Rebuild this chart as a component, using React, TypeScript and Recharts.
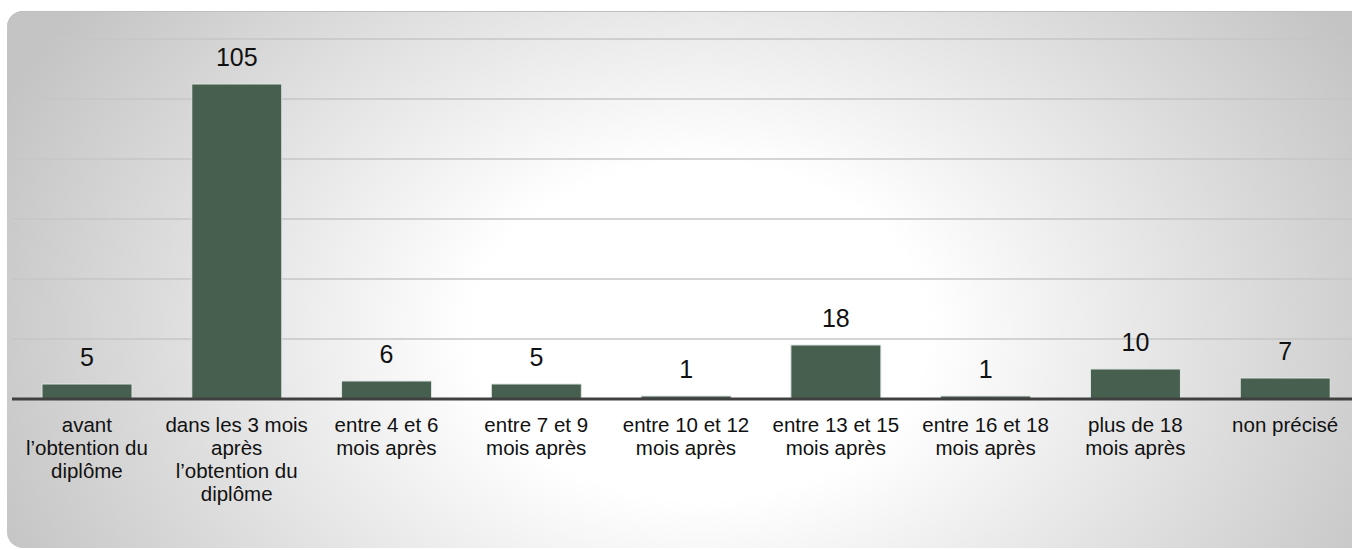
import React from 'react';
import { BarChart, Bar, XAxis, YAxis, CartesianGrid, LabelList } from 'recharts';

const categories = [
  "avant\nl\u2019obtention du\ndiplôme",
  "dans les 3 mois\naprès\nl\u2019obtention du\ndiplôme",
  "entre 4 et 6\nmois après",
  "entre 7 et 9\nmois après",
  "entre 10 et 12\nmois après",
  "entre 13 et 15\nmois après",
  "entre 16 et 18\nmois après",
  "plus de 18\nmois après",
  "non précisé",
];
const values = [5, 105, 6, 5, 1, 18, 1, 10, 7];
const yTicks = [0, 20, 40, 60, 80, 100, 120];

const data = categories.map((c, i) => ({ name: c, value: values[i] }));

const FONT = '"Liberation Sans", Arial, Helvetica, sans-serif';

const MultiTick = (props: any) => {
  const { x, y, payload } = props;
  const lines = String(payload.value).split('\n');
  return (
    <text x={x} y={y + 25} textAnchor="middle" fontSize={20.5} fontFamily={FONT} fill="#111">
      {lines.map((l, i) => (
        <tspan key={i} x={x} dy={i === 0 ? 0 : 23}>
          {l}
        </tspan>
      ))}
    </text>
  );
};

export default function App() {
  return (
    <div
      style={{
        position: 'fixed',
        left: 0,
        top: 0,
        width: 1352,
        height: 550,
        overflow: 'hidden',
        background: '#ffffff',
      }}
    >
      <div
        style={{
          position: 'absolute',
          left: 7,
          top: 11,
          width: 1360,
          height: 537,
          borderRadius: 16,
          background:
            'radial-gradient(760px 560px at 693px 320px, #ffffff 0%, #ffffff 30%, #c4c4c4 100%)',
          boxShadow: 'inset 0 1px 0 #bdbdbd',
        }}
      />
      <div style={{ position: 'absolute', left: 0, top: 0 }}>
        <BarChart
          width={1360}
          height={550}
          data={data}
          margin={{ top: 39, right: 0, left: 12, bottom: 0 }}
          barSize={90}
        >
          <CartesianGrid vertical={false} stroke="#c6c6c6" strokeWidth={1.5} />
          <YAxis hide domain={[0, 120]} ticks={yTicks} />
          <XAxis
            dataKey="name"
            interval={0}
            tickLine={false}
            axisLine={{ stroke: '#404040', strokeWidth: 3 }}
            tick={<MultiTick />}
            height={151}
          />
          <Bar dataKey="value" fill="#475f4f" stroke="#dfe5e1" strokeWidth={1} isAnimationActive={false}>
            <LabelList
              dataKey="value"
              position="top"
              offset={18}
              fontSize={25}
              fontFamily={FONT}
              fill="#111"
            />
          </Bar>
        </BarChart>
      </div>
    </div>
  );
}
